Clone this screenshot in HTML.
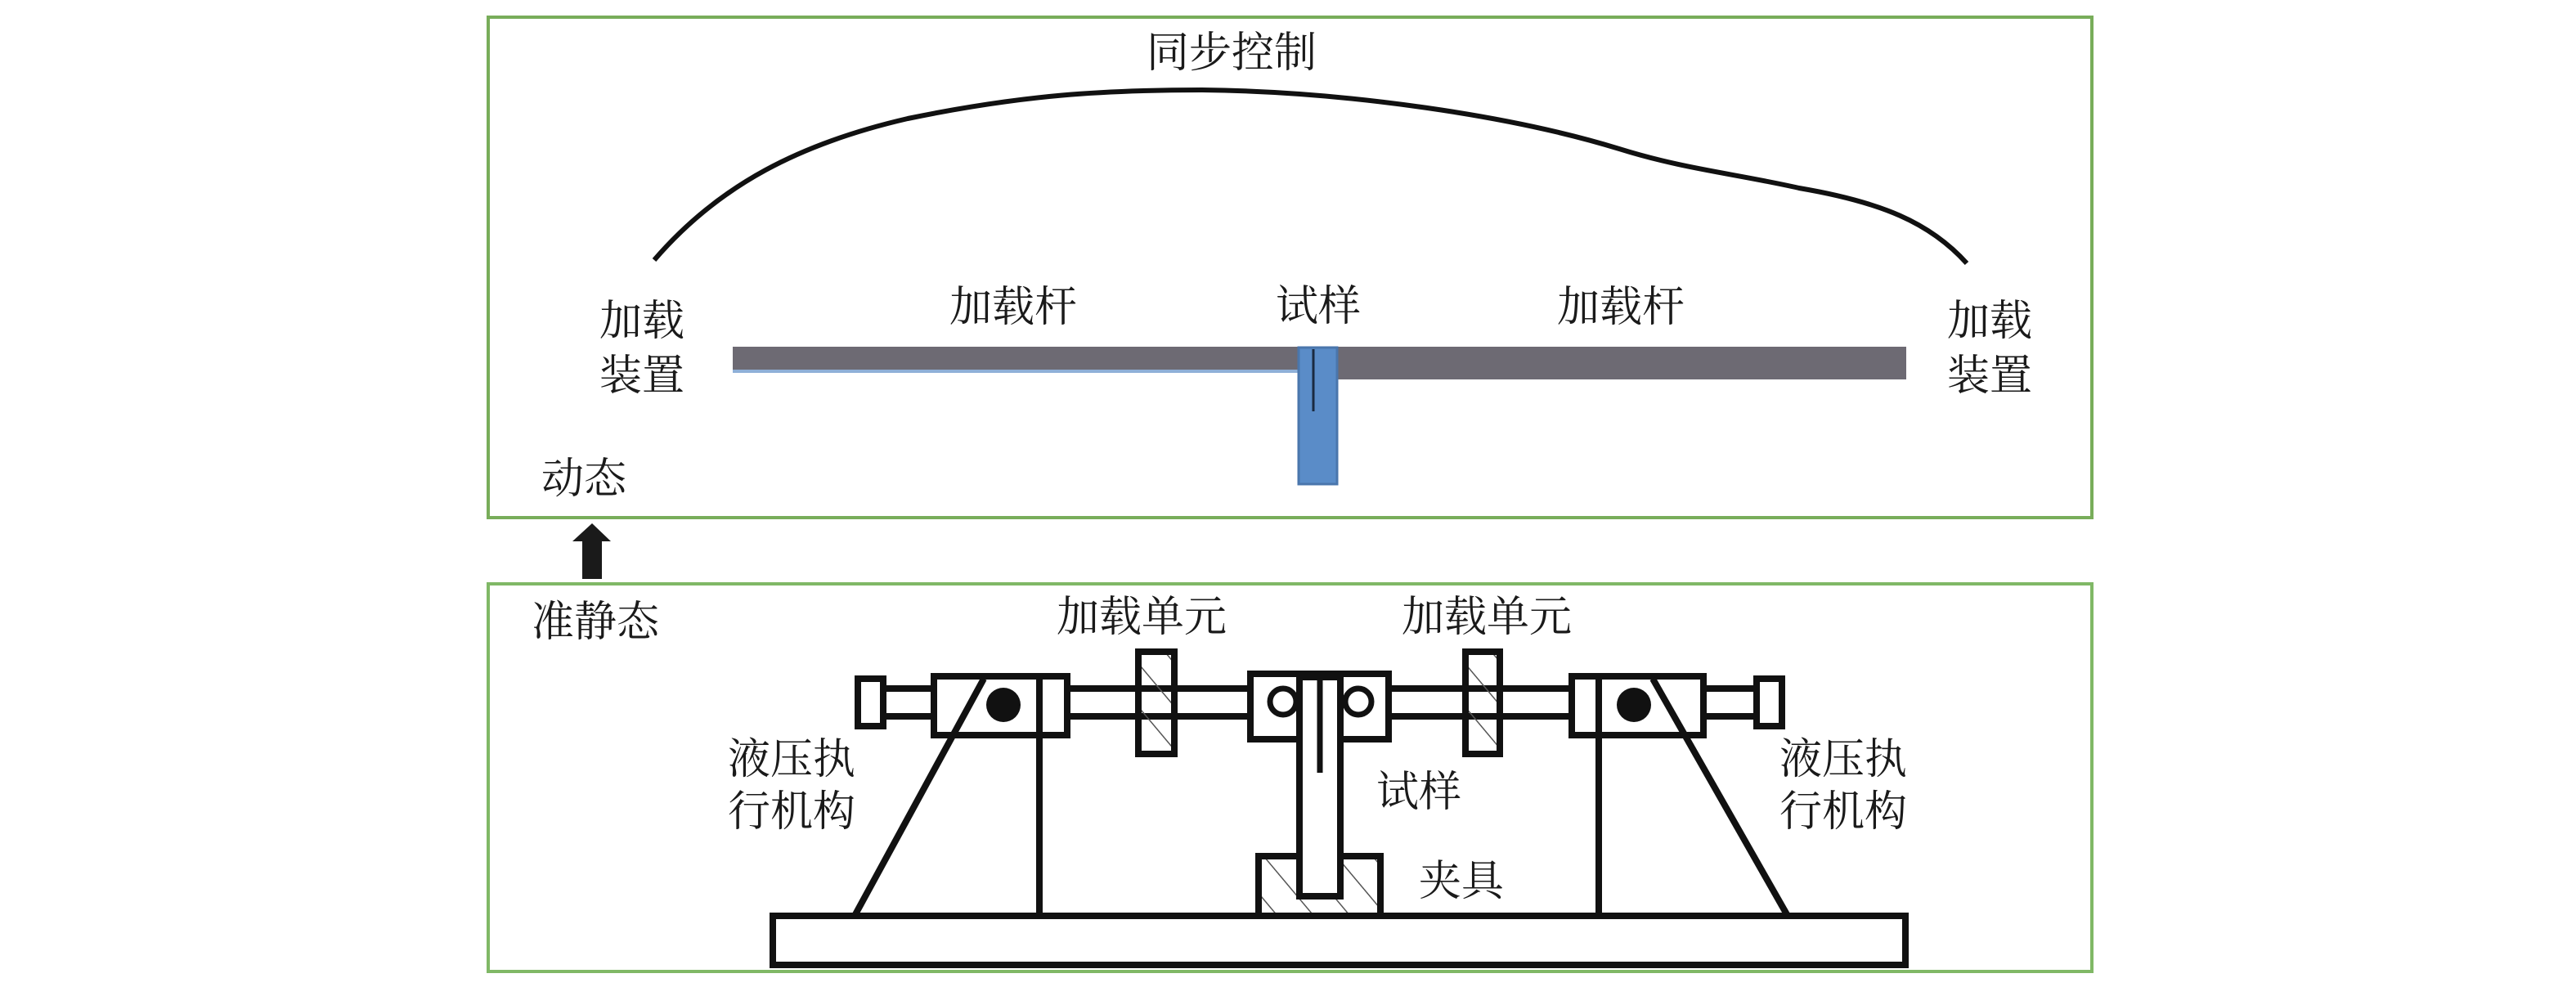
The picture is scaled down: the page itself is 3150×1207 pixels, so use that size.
<!DOCTYPE html>
<html><head><meta charset="utf-8"><style>
html,body{margin:0;padding:0;background:#fff}
svg{display:block}
text{font-family:"Noto Serif CJK SC","Liberation Serif",serif;font-size:52px;fill:#1a1a1a}
</style></head><body>
<svg width="3150" height="1207" viewBox="0 0 3150 1207" xmlns="http://www.w3.org/2000/svg">
<defs>
<pattern id="h" width="34" height="34" patternUnits="userSpaceOnUse" patternTransform="rotate(-40)">
<line x1="0" y1="0" x2="0" y2="34" stroke="#555" stroke-width="3"/>
</pattern>
</defs>
<rect x="597" y="21" width="1961" height="612" fill="none" stroke="#78ad5a" stroke-width="4"/>
<rect x="597" y="714" width="1961" height="474" fill="none" stroke="#80b866" stroke-width="4"/>
<path d="M800 318 C880 225 980 175 1110 145 C1250 116 1350 110 1470 110 C1650 112 1850 142 1980 182 C2060 207 2120 212 2200 230 C2300 247 2360 272 2405 322" fill="none" stroke="#111" stroke-width="6"/>
<text x="1402" y="82">同步控制</text>
<text x="733" y="410">加载</text>
<text x="733" y="477">装置</text>
<text x="2381" y="410">加载</text>
<text x="2381" y="477">装置</text>
<text x="1161" y="393">加载杆</text>
<text x="1904" y="393">加载杆</text>
<text x="1560" y="392">试样</text>
<text x="662" y="603">动态</text>
<rect x="896" y="424" width="693" height="30" fill="#6d6a73"/>
<line x1="896" y1="454" x2="1589" y2="454" stroke="#8fb0d8" stroke-width="4"/>
<rect x="1635" y="424" width="696" height="40" fill="#6d6a73"/>
<rect x="1588" y="425" width="47" height="167" fill="#5a8cc8" stroke="#4a76ac" stroke-width="3"/>
<line x1="1606" y1="427" x2="1606" y2="503" stroke="#1a2a40" stroke-width="3"/>
<polygon points="724,640 747,662 736,662 736,708 712,708 712,662 700,662" fill="#1a1a1a"/>
<text x="650" y="778">准静态</text>
<text x="1292" y="772">加载单元</text>
<text x="1714" y="772">加载单元</text>
<text x="890" y="946">液压执</text>
<text x="890" y="1010">行机构</text>
<text x="2176" y="946">液压执</text>
<text x="2176" y="1010">行机构</text>
<text x="1683" y="986">试样</text>
<text x="1735" y="1095">夹具</text>
<g fill="none" stroke="#111" stroke-width="8">
<rect x="1080" y="842" width="1070" height="34" fill="#fff"/>
<rect x="1049" y="830" width="31" height="58" fill="#fff"/>
<rect x="2148" y="830" width="31" height="58" fill="#fff"/>
<rect x="1142" y="827" width="163" height="72" fill="#fff"/>
<line x1="1271" y1="827" x2="1271" y2="1120"/>
<line x1="1203" y1="830" x2="1045" y2="1120"/>
<rect x="1922" y="827" width="161" height="72" fill="#fff"/>
<line x1="1955" y1="827" x2="1955" y2="1120"/>
<line x1="2021" y1="830" x2="2186" y2="1120"/>
<rect x="1392" y="797" width="44" height="125" fill="url(#h)"/>
<rect x="1792" y="797" width="42" height="125" fill="url(#h)"/>
<rect x="1529" y="824" width="169" height="80" fill="#fff"/>
<circle cx="1569" cy="858" r="16" fill="#fff" stroke-width="7"/>
<circle cx="1661" cy="858" r="16" fill="#fff" stroke-width="7"/>
<rect x="1539" y="1047" width="149" height="73" fill="url(#h)"/>
<rect x="1589" y="828" width="50" height="268" fill="#fff"/>
<line x1="1614" y1="830" x2="1614" y2="945" stroke-width="7"/>
<rect x="945" y="1120" width="1385" height="60" fill="#fff"/>
</g>
<circle cx="1227" cy="862" r="21" fill="#111"/>
<circle cx="1998" cy="862" r="21" fill="#111"/>
</svg>
</body></html>
